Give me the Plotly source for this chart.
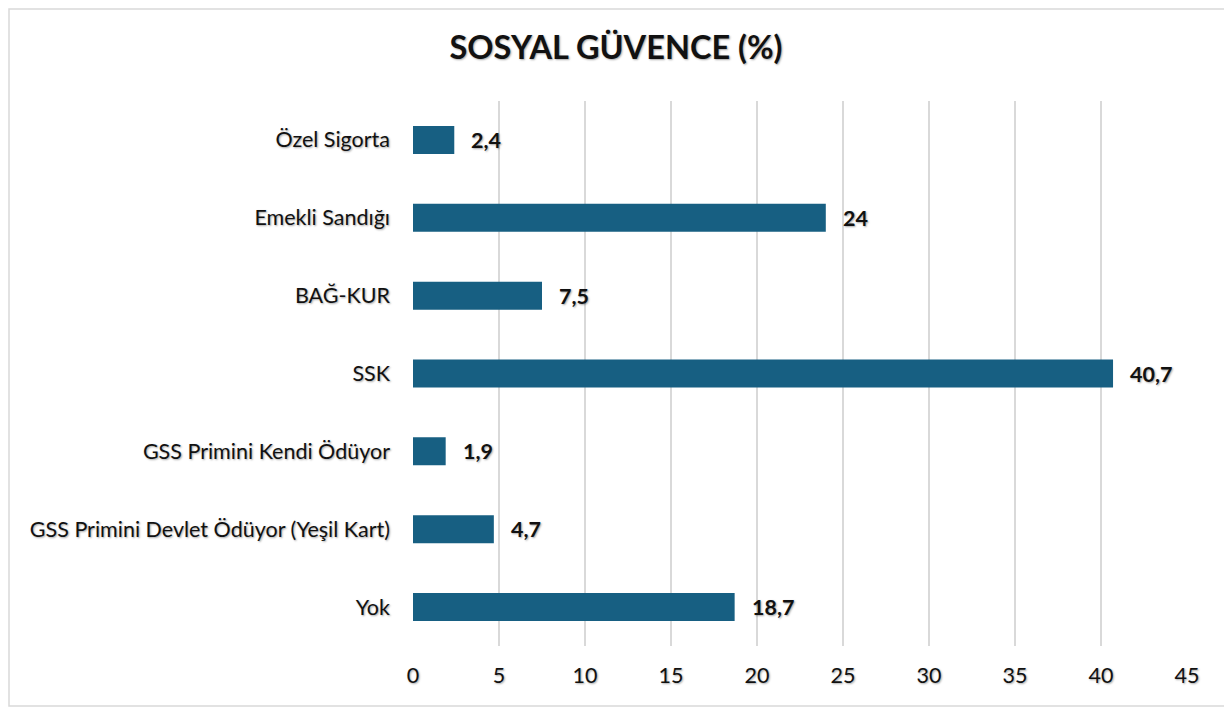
import plotly.graph_objects as go

categories = ["Özel Sigorta", "Emekli Sandığı", "BAĞ-KUR", "SSK",
              "GSS Primini Kendi Ödüyor", "GSS Primini Devlet Ödüyor (Yeşil Kart)", "Yok"]
values = [2.4, 24, 7.5, 40.7, 1.9, 4.7, 18.7]
value_labels = ["2,4", "24", "7,5", "40,7", "1,9", "4,7", "18,7"]
x_ticks = [0, 5, 10, 15, 20, 25, 30, 35, 40, 45]

FONT = "Lato, 'Open Sans', sans-serif"
SHADOW = "1px 1px 2px rgba(0,0,0,0.35)"

# page body has an 8px default margin
OFF = 8
W, H = 1232 - OFF, 709 - OFF
L, R, T, B = 413 - OFF, 45, 101 - OFF, 63

fig = go.Figure(go.Bar(
    y=categories, x=values, orientation="h",
    marker=dict(color="#175F82", line=dict(width=0)),
    width=0.36,
))

for c, v, lab in zip(categories, values, value_labels):
    fig.add_annotation(x=v, y=c, text=lab, showarrow=False, xanchor="left",
                       xshift=15, font=dict(family=FONT, size=21.5, color="#111",
                                            weight="bold", shadow=SHADOW))

pw = W - L - R
ph = H - T - B
fig.add_shape(type="rect", xref="paper", yref="paper",
              x0=(1 - L) / pw, x1=(W - 3 - L) / pw,
              y0=-(H - 3 - T - ph) / ph, y1=1 + (T - 1) / ph,
              line=dict(color="#d9d9d9", width=1.5), fillcolor="rgba(0,0,0,0)", layer="below")

fig.update_layout(
    width=W, height=H,
    margin=dict(l=L, r=R, t=T, b=B),
    paper_bgcolor="white", plot_bgcolor="white",
    title=dict(text="SOSYAL GÜVENCE (%)", x=(616 - OFF) / W, xref="container", xanchor="center",
               y=1 - (48 - OFF) / H, yref="container", yanchor="middle",
               font=dict(family=FONT, size=32.5, color="#111", weight="bold", shadow=SHADOW)),
    xaxis=dict(range=[0, 45], tickvals=x_ticks, showgrid=True, gridcolor="#d9d9d9",
               gridwidth=1.5, zeroline=False, showline=False, ticks="",
               ticklabelstandoff=14,
               tickfont=dict(family=FONT, size=21.5, color="#111", shadow=SHADOW)),
    yaxis=dict(autorange="reversed", categoryorder="array", categoryarray=categories,
               showgrid=False, zeroline=False, showline=False, ticks="",
               ticklabelstandoff=22,
               tickfont=dict(family=FONT, size=21.5, color="#111", shadow=SHADOW)),
    showlegend=False,
    bargap=0.6,
)

fig.write_html("out.html")
